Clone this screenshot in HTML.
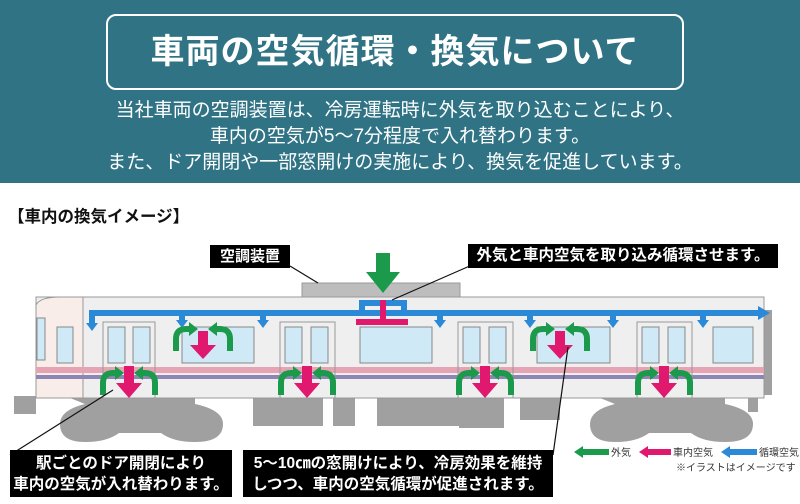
<!DOCTYPE html>
<html><head><meta charset="utf-8"><style>
html,body{margin:0;padding:0;background:#fff;}
body{width:800px;height:504px;overflow:hidden;position:relative;font-family:"Liberation Sans","Noto Sans CJK JP",sans-serif;}
.hd{position:absolute;left:0;top:0;width:800px;height:183px;background:#2f7385;}
.tb{position:absolute;left:106px;top:14px;width:574px;height:72px;border:2px solid #fff;border-radius:10px;color:#fff;font-size:34px;font-weight:bold;text-align:center;line-height:72px;letter-spacing:1px;}
.tx{position:absolute;left:0;width:800px;text-align:center;color:#fff;font-size:19px;line-height:26px;top:98px;}
.lb{position:absolute;background:#000;color:#fff;font-weight:bold;text-align:center;}
</style></head><body>
<div class="hd"></div>
<div class="tb">車両の空気循環・換気について</div>
<div class="tx">当社車両の空調装置は、冷房運転時に外気を取り込むことにより、<br>車内の空気が5～7分程度で入れ替わります。<br>また、ドア開閉や一部窓開けの実施により、換気を促進しています。</div>
<div style="position:absolute;left:8px;top:203px;font-size:16.5px;font-weight:bold;color:#111;">【車内の換気イメージ】</div>
<svg style="position:absolute;left:0;top:0" width="800" height="504">
<g fill="#a0a0a0">
<path d="M70 398 h125 v6 q28 6 28 20 q0 18 -28 18 q-22 0 -34 -9 h-42 q-12 9 -34 9 q-25 0 -25 -18 q0 -14 25 -20z"/>
<path d="M600 398 h125 v6 q28 6 28 20 q0 18 -28 18 q-22 0 -34 -9 h-42 q-12 9 -34 9 q-25 0 -25 -18 q0 -14 25 -20z"/>
<rect x="14" y="396" width="22" height="18"/><rect x="253" y="398" width="70" height="28"/>
<rect x="333" y="398" width="22" height="28"/><rect x="377" y="398" width="110" height="28"/>
<rect x="459" y="398" width="45" height="30"/><rect x="520" y="398" width="40" height="22"/>
<rect x="748" y="398" width="10" height="14"/><rect x="760" y="310" width="12" height="85"/>
</g>
<rect x="302" y="283" width="158" height="15" fill="#bdbdbd" stroke="#999"/>
<rect x="36" y="297" width="728" height="101" fill="#efefef" stroke="#999"/>
<path d="M36 398 V305 Q40 297 60 297 H83 V398Z" fill="#f8ede8" stroke="#999"/>
<rect x="36" y="367" width="728" height="6" fill="#e6a3b3"/>
<rect x="36" y="375" width="728" height="4" fill="#8d85b3"/>
<g fill="#cfe9f7" stroke="#888">
<rect x="37" y="318" width="8" height="42"/><rect x="57" y="327" width="16" height="36"/>
<rect x="182" y="327" width="72" height="36"/><rect x="360" y="327" width="72" height="36"/>
<rect x="537" y="327" width="73" height="36"/><rect x="713" y="327" width="40" height="36"/>
<rect x="108" y="327" width="17" height="36"/><rect x="133" y="327" width="17" height="36"/>
<rect x="285" y="327" width="17" height="36"/><rect x="311" y="327" width="17" height="36"/>
<rect x="463" y="327" width="17" height="36"/><rect x="489" y="327" width="17" height="36"/>
<rect x="642" y="327" width="17" height="36"/><rect x="668" y="327" width="17" height="36"/>
</g>
<g fill="none" stroke="#999">
<rect x="103" y="322" width="52" height="76"/><rect x="280" y="322" width="55" height="76"/>
<rect x="458" y="322" width="55" height="76"/><rect x="637" y="322" width="55" height="76"/>
</g>
<g stroke="#2a8ad8" stroke-width="6" fill="none">
<path d="M92 325 V313 H760"/>
<path d="M182 313 v8 M263 313 v8 M440 313 v8 M530 313 v8 M613 313 v8 M703 313 v8"/>
<path d="M362 313 V303 H404 V313"/>
</g>
<g fill="#2a8ad8">
<path d="M758 306 l12 7 l-12 7z"/>
<path d="M86 323 h12 l-6 8z"/><path d="M176 320 h12 l-6 8z"/><path d="M257 320 h12 l-6 8z"/>
<path d="M434 320 h12 l-6 8z"/><path d="M524 320 h12 l-6 8z"/><path d="M607 320 h12 l-6 8z"/><path d="M697 320 h12 l-6 8z"/>
</g>
<g fill="#1a9a4a"><rect x="376" y="253" width="14" height="22"/><path d="M366 272 h34 l-17 21z"/></g>
<g stroke="#e0186e" stroke-width="6" fill="none"><path d="M383 300 V322 M356 322 H408"/></g>
<g stroke="#1a9a4a" stroke-width="6" fill="none">
<path d="M103 395 V383 Q103 373 113 373 H116 M155 395 V383 Q155 373 145 373 H142"/>
<path d="M281 395 V383 Q281 373 291 373 H294 M333 395 V383 Q333 373 323 373 H320"/>
<path d="M459 395 V383 Q459 373 469 373 H472 M511 395 V383 Q511 373 501 373 H498"/>
<path d="M638 395 V383 Q638 373 648 373 H651 M690 395 V383 Q690 373 680 373 H677"/>
<path d="M176 351 V339 Q176 329 186 329 H190 M230 351 V339 Q230 329 220 329 H216"/>
<path d="M533 351 V339 Q533 329 543 329 H547 M587 351 V339 Q587 329 577 329 H573"/>
</g>
<g fill="#1a9a4a">
<path d="M115 366 l9 7 l-9 7z M143 366 l-9 7 l9 7z"/>
<path d="M293 366 l9 7 l-9 7z M321 366 l-9 7 l9 7z"/>
<path d="M471 366 l9 7 l-9 7z M499 366 l-9 7 l9 7z"/>
<path d="M650 366 l9 7 l-9 7z M678 366 l-9 7 l9 7z"/>
<path d="M189 322 l9 7 l-9 7z M217 322 l-9 7 l9 7z"/>
<path d="M546 322 l9 7 l-9 7z M574 322 l-9 7 l9 7z"/>
</g>
<g fill="#e0186e">
<path d="M124 366 h10 v17 h8 l-13 15 l-13 -15 h8z"/>
<path d="M302 366 h10 v17 h8 l-13 15 l-13 -15 h8z"/>
<path d="M480 366 h10 v17 h8 l-13 15 l-13 -15 h8z"/>
<path d="M659 366 h10 v17 h8 l-13 15 l-13 -15 h8z"/>
<path d="M198 331 h10 v14 h8 l-13 14 l-13 -14 h8z"/>
<path d="M555 331 h10 v14 h8 l-13 14 l-13 -14 h8z"/>
</g>
<g stroke="#111" stroke-width="1.2" fill="none">
<path d="M290 266 L318 283"/><path d="M472 265 L392 300"/>
<path d="M113 390 L10 455"/><path d="M568 347 L553 455"/>
</g>
<g fill="none" stroke-width="6">
<path d="M582 452 H609" stroke="#1a9a4a"/><path d="M647 452 H671" stroke="#e0186e"/><path d="M729 452 H757" stroke="#2a8ad8"/>
</g>
<g fill="#1a9a4a"><path d="M574 452 l9 -6 v12z"/></g>
<g fill="#e0186e"><path d="M639 452 l9 -6 v12z"/></g>
<g fill="#2a8ad8"><path d="M721 452 l9 -6 v12z"/></g>
<g font-size="10" fill="#333" font-family="Liberation Sans, Noto Sans CJK JP, sans-serif">
<text x="611" y="456">外気</text><text x="673" y="456">車内空気</text><text x="759" y="456">循環空気</text>
<text x="676" y="471">※イラストはイメージです</text>
</g>
</svg>
<div class="lb" style="left:210px;top:245px;width:80px;height:23px;font-size:15px;line-height:23px;">空調装置</div>
<div class="lb" style="left:468px;top:244px;width:310px;height:24px;font-size:15.5px;line-height:24px;">外気と車内空気を取り込み循環させます。</div>
<div class="lb" style="left:10px;top:450px;width:222px;height:47px;font-size:15.5px;line-height:21px;padding-top:3px;box-sizing:border-box;">駅ごとのドア開閉により<br>車内の空気が入れ替わります。</div>
<div class="lb" style="left:243px;top:450px;width:310px;height:47px;font-size:15.5px;line-height:21px;padding-top:3px;box-sizing:border-box;">5～10㎝の窓開けにより、冷房効果を維持<br>しつつ、車内の空気循環が促進されます。</div>
</body></html>
